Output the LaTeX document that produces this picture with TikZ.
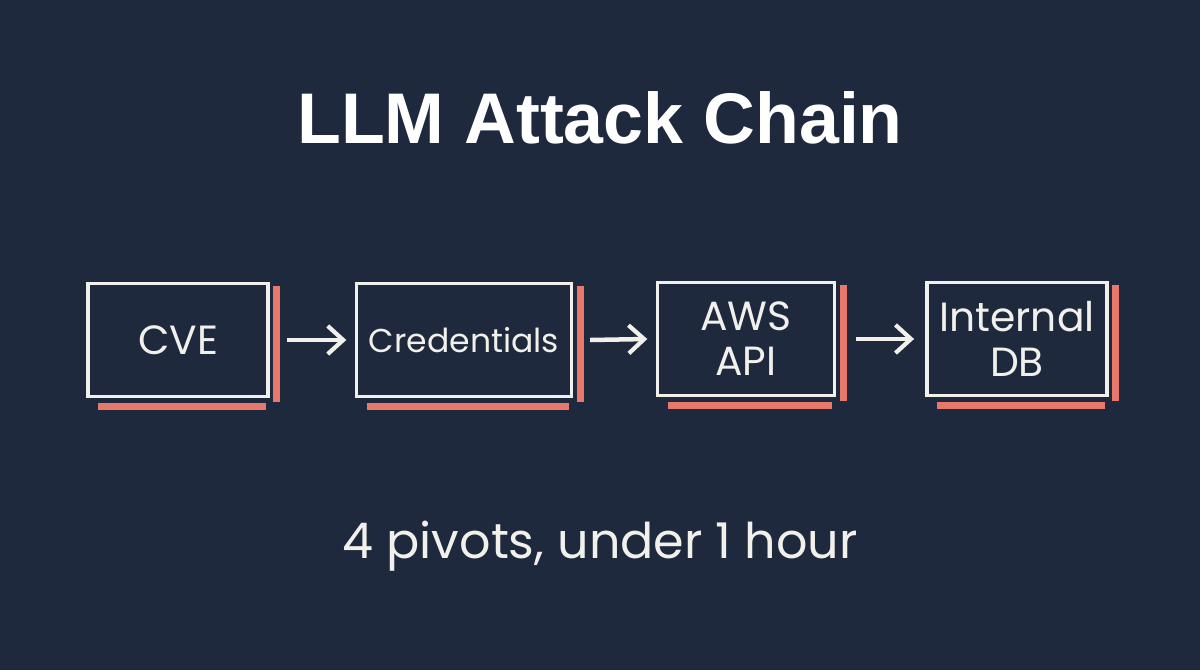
\documentclass[tikz,border=0pt]{standalone}
\usepackage{fontspec}
\setmainfont{Liberation Sans}
\newfontfamily\chalkfont{Poppins}
\usetikzlibrary{arrows.meta}
\definecolor{board}{HTML}{1E293D}
\definecolor{chalk}{HTML}{F2F0EA}
\definecolor{redchalk}{HTML}{E8786B}
\tikzset{
    stepbox/.style={draw=chalk, line width=2.4pt, minimum height=80pt, inner sep=0pt,
        text=chalk, font=\chalkfont\fontsize{29}{32}\selectfont, align=center},
    redline/.style={redchalk, line width=5pt},
    pivot/.style={chalk, line width=3.2pt, -{Straight Barb[length=11pt, width=20pt, line width=3pt]}}
}
\begin{document}
\begin{tikzpicture}[x=0.025cm, y=-0.025cm]
    %sfondo lavagna
    \fill[board] (0,0) rectangle (1200,670);
    \useasboundingbox (0,0) rectangle (1200,670);

    %titolo
    \node[text=white, font=\bfseries\fontsize{51}{58}\selectfont] (title) at (600,118) {LLM Attack Chain};

    %caselle
    \node[stepbox, minimum width=128pt] (cve) at (178,340) {CVE};
    \node[stepbox, minimum width=153pt, font=\chalkfont\fontsize{23.5}{28}\selectfont] (cred) at (464,340) {Credentials};
    \node[stepbox, minimum width=126pt] (aws) at (746,339) {AWS\\API};
    \node[stepbox, minimum width=128pt] (db) at (1017,339) {Internal\\DB};

    %ombre rosse
    \foreach \b in {cve,cred,aws,db} {
        \draw[redline] ([shift={(7,4)}]\b.north east) -- ([shift={(7,4)}]\b.south east);
        \draw[redline] ([shift={(12,9)}]\b.south west) -- ([shift={(-4,9)}]\b.south east);
    }

    %frecce
    \draw[pivot] ([xshift=12]cve.east) -- ([xshift=-6]cred.west);
    \draw[pivot] ([xshift=12]cred.east) -- ([xshift=-6]aws.west);
    \draw[pivot] ([xshift=14]aws.east) -- ([xshift=-8]db.west);

    %nota
    \node[text=chalk, font=\chalkfont\fontsize{35}{40}\selectfont] (note) at (600,546) {4 pivots, under 1 hour};
\end{tikzpicture}
\end{document}
